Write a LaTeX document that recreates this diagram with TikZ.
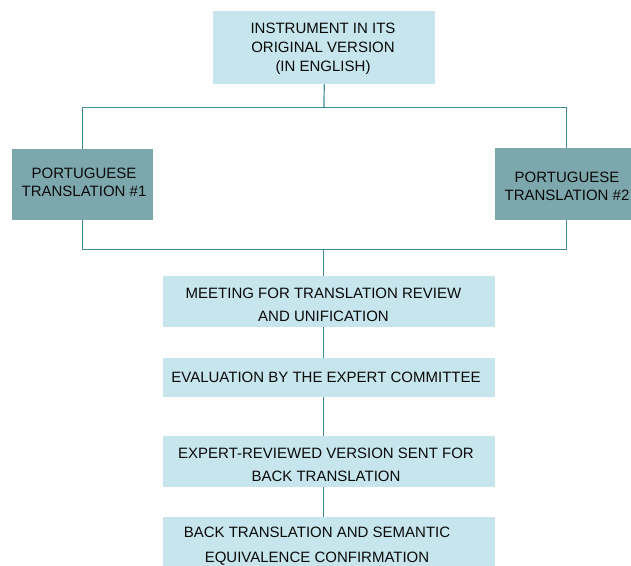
\documentclass[tikz,border=0pt]{standalone}
\usepackage{fontspec}
\setmainfont{Liberation Sans}
\definecolor{lightbox}{HTML}{C6E5EC}
\definecolor{darkbox}{HTML}{7CA8AD}
\definecolor{linkcol}{HTML}{3D8B96}
\definecolor{txt}{HTML}{0A0A0A}
\begin{document}
\begin{tikzpicture}[x=1pt,y=-1pt,
  lbox/.style={fill=lightbox, draw=none, inner sep=0pt, anchor=north west},
  dbox/.style={fill=darkbox, draw=none, inner sep=0pt, anchor=north west},
  lbl/.style={text=txt, inner sep=0pt, align=center},
  link/.style={draw=linkcol, line width=1.2pt}]
\useasboundingbox (0,0) rectangle (631,565);
\clip (0,0) rectangle (631,565);
\fill[white] (0,0) rectangle (631,565);
% boxes
\node[lbox, minimum width=222pt, minimum height=73pt] (b0) at (213,11) {};
\node[dbox, minimum width=141pt, minimum height=71pt] (b1) at (12,149) {};
\node[dbox, minimum width=142pt, minimum height=72pt] (b2) at (495,148) {};
\node[lbox, minimum width=332pt, minimum height=51pt] (b3) at (163,276) {};
\node[lbox, minimum width=332pt, minimum height=39pt] (b4) at (163,358) {};
\node[lbox, minimum width=332pt, minimum height=51pt] (b5) at (163,436) {};
\node[lbox, minimum width=332pt, minimum height=58pt] (b6) at (163,517) {};
% texts
\node[lbl, font=\fontsize{15}{19.2}\selectfont] (t0) at (323,48.7) {INSTRUMENT IN ITS\\ORIGINAL VERSION\\(IN ENGLISH)};
\node[lbl, font=\fontsize{15}{18.4}\selectfont] (t1) at (84,182.1) {PORTUGUESE\\TRANSLATION \#1};
\node[lbl, font=\fontsize{15}{18}\selectfont] (t2) at (567,186.3) {PORTUGUESE\\TRANSLATION \#2};
\node[lbl, font=\fontsize{15}{23.4}\selectfont] (t3) at (323.5,304.6) {MEETING FOR TRANSLATION REVIEW\\AND UNIFICATION};
\node[lbl, font=\fontsize{15}{23.4}\selectfont] (t4) at (326,377.6) {EVALUATION BY THE EXPERT COMMITTEE};
\node[lbl, font=\fontsize{15}{23.4}\selectfont] (t5) at (326,464.6) {EXPERT-REVIEWED VERSION SENT FOR\\BACK TRANSLATION};
\node[lbl, font=\fontsize{15}{25}\selectfont] (t6) at (317,546) {BACK TRANSLATION AND SEMANTIC\\EQUIVALENCE CONFIRMATION};
% connectors
\coordinate (j1) at (324,107.5);
\coordinate (j2) at (323.5,249.5);
\draw[link] (b0.south) -- (j1);
\draw[link] (b1.north) |- (j1) -| (b2.north);
\draw[link] (b1.south) |- (j2) -| (b2.south);
\draw[link] (j2) -- (j2 |- b3.north);
\draw[link] (j2 |- b3.south) -- (j2 |- b4.north);
\draw[link] (j2 |- b4.south) -- (j2 |- b5.north);
\draw[link] (j2 |- b5.south) -- (j2 |- b6.north);
\end{tikzpicture}
\end{document}
